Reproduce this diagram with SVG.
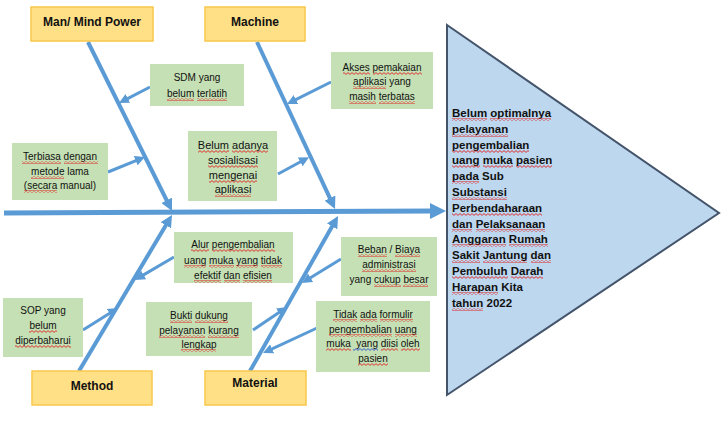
<svg xmlns="http://www.w3.org/2000/svg" width="724" height="424" viewBox="0 0 724 424">
<defs>
<style>
.cat{fill:#FFE087;stroke:#F7C84C;stroke-width:1.5}
.cause{fill:#C5E0B4}
.ct{font-family:"Liberation Sans",Arial,sans-serif;font-size:12px;font-weight:bold;fill:#111;text-anchor:middle}
.t{font-family:"Liberation Sans",Arial,sans-serif;font-size:10px;fill:#111;text-anchor:middle;white-space:pre}
.t2{font-family:"Liberation Sans",Arial,sans-serif;font-size:11px;fill:#111;text-anchor:middle}
.head{font-family:"Liberation Sans",Arial,sans-serif;font-size:11.5px;font-weight:bold;fill:#111}
.sq{fill:url(#sqr)}
.sqb{fill:url(#sqb)}
.bone{stroke:#5B9BD5;stroke-width:4;fill:none;marker-end:url(#ah)}
.sub{stroke:#5B9BD5;stroke-width:3;fill:none;marker-end:url(#ahs)}
.spine{stroke:#5B9BD5;stroke-width:5;fill:none;marker-end:url(#ahm)}
</style>
<pattern id="sqr" patternUnits="userSpaceOnUse" width="4" height="3"><path d="M0,0.6 L2,2.4 L4,0.6" stroke="#E02020" stroke-width="0.9" fill="none"/></pattern>
<pattern id="sqb" patternUnits="userSpaceOnUse" width="4" height="3"><path d="M0,0.6 L2,2.4 L4,0.6" stroke="#3050D0" stroke-width="0.9" fill="none"/></pattern>
<marker id="ah" viewBox="0 0 12 12" markerWidth="12" markerHeight="12" refX="3" refY="6" orient="auto" markerUnits="userSpaceOnUse"><path d="M0,0 L12,6 L0,12 z" fill="#5B9BD5"/></marker>
<marker id="ahs" viewBox="0 0 10 10" markerWidth="10" markerHeight="10" refX="3" refY="5" orient="auto" markerUnits="userSpaceOnUse"><path d="M0,0 L10,5 L0,10 z" fill="#5B9BD5"/></marker>
<marker id="ahm" viewBox="0 0 16 16" markerWidth="16" markerHeight="16" refX="4" refY="8" orient="auto" markerUnits="userSpaceOnUse"><path d="M0,0 L16,8 L0,16 z" fill="#5B9BD5"/></marker>
</defs>
<rect width="724" height="424" fill="#fff"/>

<g id="effect">
<polygon points="447,25 719,213 447,395" fill="#BDD7EE" stroke="#44546A" stroke-width="2"/>
<text class="head" x="452" y="117">Belum optimalnya</text>
<text class="head" x="452" y="133">pelayanan</text>
<text class="head" x="452" y="149">pengembalian</text>
<text class="head" x="452" y="164">uang muka pasien</text>
<text class="head" x="452" y="180">pada Sub</text>
<text class="head" x="452" y="196">Substansi</text>
<text class="head" x="452" y="212">Perbendaharaan</text>
<text class="head" x="452" y="228">dan Pelaksanaan</text>
<text class="head" x="452" y="243">Anggaran Rumah</text>
<text class="head" x="452" y="259">Sakit Jantung dan</text>
<text class="head" x="452" y="275">Pembuluh Darah</text>
<text class="head" x="452" y="291">Harapan Kita</text>
<text class="head" x="452" y="307">tahun 2022</text>
<rect class="sq" x="452" y="118" width="35" height="3"/><rect class="sq" x="490" y="118" width="61" height="3"/>
<rect class="sq" x="452" y="134" width="56" height="3"/>
<rect class="sq" x="452" y="150" width="77" height="3"/>
<rect class="sq" x="452" y="165" width="28" height="3"/><rect class="sq" x="483" y="165" width="30" height="3"/><rect class="sq" x="516" y="165" width="36" height="3"/>
<rect class="sq" x="452" y="181" width="27" height="3"/>
<rect class="sq" x="452" y="197" width="55" height="3"/>
<rect class="sq" x="452" y="213" width="90" height="3"/>
<rect class="sq" x="452" y="229" width="20" height="3"/><rect class="sq" x="476" y="229" width="69" height="3"/>
<rect class="sq" x="452" y="244" width="54" height="3"/><rect class="sq" x="509" y="244" width="39" height="3"/>
<rect class="sq" x="452" y="260" width="28" height="3"/><rect class="sq" x="483" y="260" width="44" height="3"/><rect class="sq" x="531" y="260" width="20" height="3"/>
<rect class="sq" x="452" y="276" width="56" height="3"/><rect class="sq" x="511" y="276" width="32" height="3"/>
<rect class="sq" x="452" y="292" width="46" height="3"/>
<rect class="sq" x="452" y="308" width="31" height="3"/>
</g>

<g id="connectors">
<line class="spine" x1="4" y1="213" x2="434" y2="211"/>
<line class="bone" x1="88" y1="42" x2="168" y2="203"/>
<line class="bone" x1="257" y1="42" x2="331.2" y2="200.8"/>
<line class="bone" x1="79" y1="371" x2="167.4" y2="222.7"/>
<line class="bone" x1="250" y1="371" x2="333.6" y2="223.8"/>
<line class="sub" x1="150" y1="87" x2="125.2" y2="99.8"/>
<line class="sub" x1="108" y1="172" x2="138.5" y2="159.6"/>
<line class="sub" x1="278" y1="174" x2="302.9" y2="160.5"/>
<line class="sub" x1="331" y1="82" x2="293.3" y2="100.9"/>
<line class="sub" x1="174" y1="257" x2="141" y2="276.4"/>
<line class="sub" x1="83" y1="330" x2="112.1" y2="311.7"/>
<line class="sub" x1="253" y1="330" x2="281.2" y2="310.9"/>
<line class="sub" x1="341" y1="259" x2="308" y2="279.3"/>
<line class="sub" x1="317" y1="328" x2="269.4" y2="350.1"/>
</g>

<g id="cat-man"><rect class="cat" x="31" y="7" width="122" height="34"/><text class="ct" x="92" y="26">Man/ Mind Power</text></g>
<g id="cat-machine"><rect class="cat" x="205" y="7" width="100" height="34"/><text class="ct" x="255" y="26">Machine</text></g>
<g id="cat-method"><rect class="cat" x="32" y="371" width="120" height="34"/><text class="ct" x="92" y="390">Method</text></g>
<g id="cat-material"><rect class="cat" x="205" y="371" width="101" height="34"/><text class="ct" x="255" y="387">Material</text></g>

<g id="c-sdm"><rect class="cause" x="150" y="64" width="94" height="42"/>
<text class="t" x="197" y="81">SDM yang</text><text class="t" x="197" y="97">belum terlatih</text>
<rect class="sq" x="167" y="98" width="27" height="3"/><rect class="sq" x="197" y="98" width="30" height="3"/></g>
<g id="c-terbiasa"><rect class="cause" x="12" y="143" width="96" height="57"/>
<text class="t" x="60" y="160">Terbiasa dengan</text><text class="t" x="60" y="175">metode lama</text><text class="t" x="60" y="189">(secara manual)</text>
<rect class="sq" x="22" y="161" width="39" height="3"/><rect class="sq" x="64" y="161" width="34" height="3"/>
<rect class="sq" x="31" y="176" width="33" height="3"/>
<rect class="sq" x="24" y="190" width="33" height="3"/></g>
<g id="c-sosialisasi"><rect class="cause" x="188" y="131" width="89" height="70"/>
<text class="t2" x="233" y="149">Belum adanya</text><text class="t2" x="233" y="164">sosialisasi</text><text class="t2" x="233" y="179">mengenai</text><text class="t2" x="233" y="193">aplikasi</text>
<rect class="sq" x="198" y="150" width="31" height="3"/><rect class="sq" x="232" y="150" width="36" height="3"/>
<rect class="sq" x="208" y="165" width="50" height="3"/>
<rect class="sq" x="209" y="180" width="48" height="3"/>
<rect class="sq" x="215" y="194" width="36" height="3"/></g>
<g id="c-akses"><rect class="cause" x="331" y="52" width="102" height="57"/>
<text class="t" x="382" y="71">Akses pemakaian</text><text class="t" x="382" y="85">aplikasi yang</text><text class="t" x="382" y="100">masih terbatas</text>
<rect class="sq" x="343" y="72" width="27" height="3"/><rect class="sq" x="373" y="72" width="49" height="3"/>
<rect class="sq" x="353" y="86" width="33" height="3"/>
<rect class="sq" x="349" y="101" width="27" height="3"/><rect class="sq" x="379" y="101" width="36" height="3"/></g>
<g id="c-alur"><rect class="cause" x="174" y="232" width="119" height="51"/>
<text class="t" x="233" y="248">Alur pengembalian</text><text class="t" x="233" y="264">uang muka yang tidak</text><text class="t" x="233" y="279">efektif dan efisien</text>
<rect class="sq" x="191" y="249" width="18" height="3"/><rect class="sq" x="212" y="249" width="63" height="3"/>
<rect class="sq" x="184" y="265" width="22" height="3"/><rect class="sq" x="209" y="265" width="25" height="3"/><rect class="sq" x="236" y="265" width="22" height="3"/><rect class="sq" x="261" y="265" width="21" height="3"/>
<rect class="sq" x="194" y="280" width="27" height="3"/><rect class="sq" x="224" y="280" width="16" height="3"/><rect class="sq" x="243" y="280" width="29" height="3"/></g>
<g id="c-sop"><rect class="cause" x="3" y="298" width="80" height="59"/>
<text class="t" x="43" y="314">SOP yang</text><text class="t" x="43" y="329">belum</text><text class="t" x="43" y="344">diperbaharui</text>
<rect class="sq" x="29" y="330" width="28" height="3"/>
<rect class="sq" x="15" y="345" width="56" height="3"/></g>
<g id="c-bukti"><rect class="cause" x="146" y="302" width="106" height="54"/>
<text class="t" x="199" y="319">Bukti dukung</text><text class="t" x="199" y="334">pelayanan kurang</text><text class="t" x="199" y="348">lengkap</text>
<rect class="sq" x="170" y="320" width="22" height="3"/><rect class="sq" x="195" y="320" width="33" height="3"/>
<rect class="sq" x="159" y="335" width="46" height="3"/><rect class="sq" x="208" y="335" width="31" height="3"/>
<rect class="sq" x="181" y="349" width="35" height="3"/></g>
<g id="c-beban"><rect class="cause" x="341" y="237" width="96" height="59"/>
<text class="t" x="389" y="253">Beban / Biaya</text><text class="t" x="389" y="268">administrasi</text><text class="t" x="389" y="283">yang cukup besar</text>
<rect class="sq" x="358" y="254" width="29" height="3"/><rect class="sq" x="395" y="254" width="25" height="3"/>
<rect class="sq" x="362" y="269" width="54" height="3"/>
<rect class="sq" x="374" y="284" width="27" height="3"/><rect class="sq" x="403" y="284" width="25" height="3"/></g>
<g id="c-formulir"><rect class="cause" x="316" y="301" width="114" height="71"/>
<text class="t" x="373" y="318">Tidak ada formulir</text><text class="t" x="373" y="333">pengembalian uang</text><text class="t" x="373" y="347">muka  yang diisi oleh</text><text class="t" x="373" y="362">pasien</text>
<rect class="sq" x="333" y="319" width="24" height="3"/><rect class="sq" x="360" y="319" width="17" height="3"/><rect class="sq" x="380" y="319" width="33" height="3"/>
<rect class="sq" x="329" y="334" width="63" height="3"/><rect class="sq" x="395" y="334" width="22" height="3"/>
<rect class="sq" x="326" y="348" width="25" height="3"/><rect class="sqb" x="353" y="348" width="25" height="3"/><rect class="sq" x="381" y="348" width="17" height="3"/><rect class="sq" x="401" y="348" width="19" height="3"/>
<rect class="sq" x="358" y="363" width="30" height="3"/></g>
</svg>
